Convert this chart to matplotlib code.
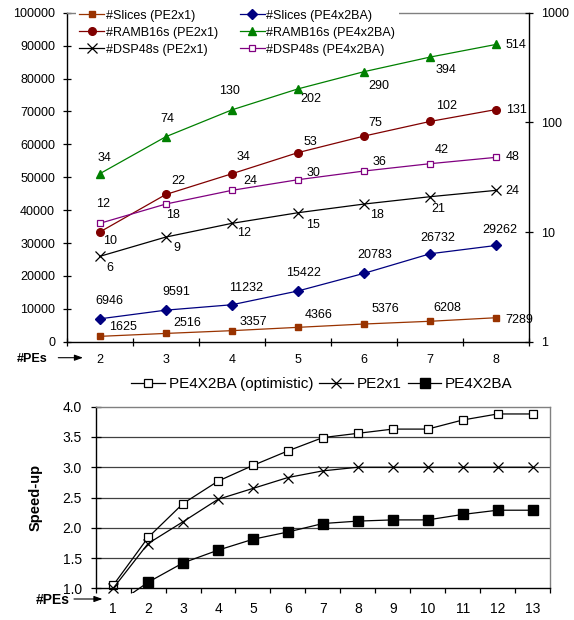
import matplotlib
matplotlib.use('Agg')
import matplotlib.pyplot as plt
from matplotlib.patches import Rectangle
from matplotlib.ticker import FixedLocator, NullLocator

plt.rcParams['font.family'] = ['Liberation Sans', 'DejaVu Sans']

# ---------------- data ----------------
pes_top = ['2', '3', '4', '5', '6', '7', '8']
slices_pe2x1 = [1625, 2516, 3357, 4366, 5376, 6208, 7289]
slices_pe4x2ba = [6946, 9591, 11232, 15422, 20783, 26732, 29262]
ramb_pe2x1 = [10, 22, 34, 53, 75, 102, 131]
ramb_pe4x2ba = [34, 74, 130, 202, 290, 394, 514]
dsp_pe2x1 = [6, 9, 12, 15, 18, 21, 24]
dsp_pe4x2ba = [12, 18, 24, 30, 36, 42, 48]

pes_bottom = ['1', '2', '3', '4', '5', '6', '7', '8', '9', '10', '11', '12', '13']
speed_opt = [1.05, 1.84, 2.40, 2.77, 3.03, 3.27, 3.49, 3.56, 3.63, 3.63, 3.78, 3.88, 3.88]
speed_pe2x1 = [1.0, 1.74, 2.10, 2.47, 2.65, 2.83, 2.94, 3.0, 3.0, 3.0, 3.0, 3.0, 3.0]
speed_pe4x2ba = [0.7, 1.10, 1.42, 1.63, 1.81, 1.93, 2.07, 2.11, 2.13, 2.13, 2.22, 2.29, 2.29]

# label offsets (pixels, dx right, dy down) -- styling only
off_s21 = [(23, -9), (21, -10), (21, -9), (21, -12), (21, -15), (17, -13), (23, 2)]
off_s42 = [(10, -18), (10, -18), (14, -17), (6, -18), (11, -18), (8, -16), (4, -15)]
off_r21 = [(10, 9), (12, -13), (12, -17), (12, -11), (11, -13), (16, -15), (20, 0)]
off_r42 = [(5, -16), (2, -18), (-2, -19), (13, 10), (15, 14), (16, 13), (20, 1)]
off_d21 = [(10, 12), (11, 11), (12, 10), (15, 12), (13, 11), (8, 12), (16, 1)]
off_d42 = [(3, -19), (7, 11), (18, -9), (16, -7), (15, -9), (12, -14), (16, 0)]

W, H = 574, 620
fig = plt.figure(figsize=(W / 100, H / 100), dpi=100)

def fx(px):
    return px / W

def fy(py):
    return 1 - py / H

FS = 9

# ---------------- top chart ----------------
l, r, t, b = 66.7, 529.3, 12.7, 341.7
ax1 = fig.add_axes([fx(l), fy(b), fx(r - l), fy(t) - fy(b)])
ax2 = ax1.twinx()
ax1.set_zorder(1)
ax2.set_zorder(2)
ax1.patch.set_visible(False)

xt = list(range(len(pes_top)))
ax1.set_xlim(-0.5, len(pes_top) - 0.5)
ax1.set_ylim(0, 100000)
ax2.set_yscale('log')
ax2.set_ylim(1, 1000)

lw = 0.9
h_s21, = ax1.plot(xt, slices_pe2x1, color='#993300', lw=lw, marker='s', ms=5,
                  mfc='#993300', mec='#993300', label='#Slices (PE2x1)')
h_s42, = ax1.plot(xt, slices_pe4x2ba, color='#000080', lw=lw, marker='D', ms=5,
                  mfc='#000080', mec='#000080', label='#Slices (PE4x2BA)')
h_r21, = ax2.plot(xt, ramb_pe2x1, color='#800000', lw=lw, marker='o', ms=5.5,
                  mfc='#800000', mec='#800000', label='#RAMB16s (PE2x1)')
h_r42, = ax2.plot(xt, ramb_pe4x2ba, color='#008000', lw=lw, marker='^', ms=6,
                  mfc='#008000', mec='#008000', label='#RAMB16s (PE4x2BA)')
h_d21, = ax2.plot(xt, dsp_pe2x1, color='black', lw=lw, marker='x', ms=6.5,
                  mew=0.9, label='#DSP48s (PE2x1)')
h_d42, = ax2.plot(xt, dsp_pe4x2ba, color='#800080', lw=lw, marker='s', ms=5,
                  mfc='white', mec='#800080', mew=0.9, label='#DSP48s (PE4x2BA)')

def labels(ax, vals, offs):
    for x, v, (dx, dy) in zip(xt, vals, offs):
        ax.annotate(str(v), (x, v), xytext=(dx, -dy), textcoords='offset pixels',
                    ha='center', va='center', fontsize=FS, color='black')

labels(ax1, slices_pe2x1, off_s21)
labels(ax1, slices_pe4x2ba, off_s42)
labels(ax2, ramb_pe2x1, off_r21)
labels(ax2, ramb_pe4x2ba, off_r42)
labels(ax2, dsp_pe2x1, off_d21)
labels(ax2, dsp_pe4x2ba, off_d42)

for ax in (ax1, ax2):
    for s in ax.spines.values():
        s.set_visible(False)
ax1.spines['left'].set_visible(True)
ax1.spines['bottom'].set_visible(True)
ax1.spines['top'].set_visible(True)
ax1.spines['top'].set_color('#808080')
ax2.spines['right'].set_visible(True)
for s in (ax1.spines['left'], ax1.spines['bottom'], ax2.spines['right']):
    s.set_color('black')
    s.set_linewidth(1.0)
ax1.spines['top'].set_linewidth(1.0)

ax1.set_yticks(range(0, 100001, 10000))
ax1.set_yticklabels([str(v) for v in range(0, 100001, 10000)])
ax1.tick_params(axis='y', direction='inout', length=6, width=0.9, pad=5.4, labelsize=FS)
ax2.set_yticks([1, 10, 100, 1000])
ax2.set_yticklabels(['1', '10', '100', '1000'])
ax2.yaxis.set_minor_locator(NullLocator())
ax2.tick_params(axis='y', which='both', direction='inout', length=6, width=0.9, pad=5.4, labelsize=FS)

ax1.xaxis.set_major_locator(FixedLocator([i - 0.5 for i in range(len(pes_top) + 1)]))
ax1.xaxis.set_minor_locator(FixedLocator(xt))
ax1.set_xticklabels([''] * (len(pes_top) + 1))
ax1.set_xticklabels(pes_top, minor=True)
ax1.tick_params(axis='x', which='major', direction='inout', length=6, width=0.9)
ax1.tick_params(axis='x', which='minor', length=0, pad=9, labelsize=FS)

leg = ax2.legend(handles=[h_s21, h_r21, h_d21, h_s42, h_r42, h_d42], ncol=2,
                 loc='upper left', bbox_to_anchor=(fx(75.5), fy(5.8)),
                 bbox_transform=fig.transFigure, fontsize=FS, frameon=True,
                 fancybox=False, framealpha=1, facecolor='white', edgecolor='none',
                 borderpad=0.3, borderaxespad=0, handlelength=2.0, handletextpad=0.15,
                 columnspacing=1.7, labelspacing=0.40)

fig.text(fx(32.5), fy(359.3), '#PEs', fontsize=FS, fontweight='bold',
         ha='center', va='center')
fig.add_artist(matplotlib.patches.FancyArrowPatch(
    (fx(58.3), fy(357.7)), (fx(83), fy(357.7)), transform=fig.transFigure,
    arrowstyle='-|>,head_length=0.5,head_width=0.18', mutation_scale=10,
    lw=0.8, color='black', shrinkA=0, shrinkB=0))

# ---------------- bottom chart ----------------
FS2 = 10
l, r, t, b = 95.7, 550.0, 406.7, 588.3
ax3 = fig.add_axes([fx(l), fy(b), fx(r - l), fy(t) - fy(b)])
xb = list(range(1, len(pes_bottom) + 1))
ax3.set_xlim(0.5, len(pes_bottom) + 0.5)
ax3.set_ylim(1.0, 4.0)

clip = Rectangle((0, -0.025), 1, 1.1, transform=ax3.transAxes)
h1, = ax3.plot(xb, speed_opt, color='black', lw=lw, marker='s', ms=6,
               mfc='white', mec='black', mew=0.9, label='PE4X2BA (optimistic)')
h2, = ax3.plot(xb, speed_pe2x1, color='black', lw=lw, marker='x', ms=7,
               mew=0.9, label='PE2x1')
h3, = ax3.plot(xb, speed_pe4x2ba, color='black', lw=lw, marker='s', ms=6.5,
               mfc='black', mec='black', label='PE4X2BA')
for h in (h1, h2, h3):
    h.set_clip_on(True)
    h.set_clip_path(clip)

for yv in [1.5, 2.0, 2.5, 3.0, 3.5]:
    ax3.axhline(yv, color='#404040', lw=0.9, zorder=0.5)

for side in ('top', 'right'):
    ax3.spines[side].set_color('#808080')
    ax3.spines[side].set_linewidth(1.0)
for side in ('left', 'bottom'):
    ax3.spines[side].set_color('black')
    ax3.spines[side].set_linewidth(1.0)

yt = [1.0, 1.5, 2.0, 2.5, 3.0, 3.5, 4.0]
ax3.set_yticks(yt)
ax3.set_yticklabels(['%.1f' % v for v in yt])
ax3.tick_params(axis='y', direction='inout', length=6.5, width=0.9, pad=6.8, labelsize=FS2)

ax3.xaxis.set_major_locator(FixedLocator([i + 0.5 for i in range(len(pes_bottom) + 1)]))
ax3.xaxis.set_minor_locator(FixedLocator(xb))
ax3.set_xticklabels([''] * (len(pes_bottom) + 1))
ax3.set_xticklabels(pes_bottom, minor=True)
ax3.tick_params(axis='x', which='major', direction='out', length=3.5, width=0.9)
ax3.tick_params(axis='x', which='minor', length=0, pad=10, labelsize=FS2)

ax3.set_ylabel('Speed-up', fontsize=10.5, fontweight='bold')
ax3.yaxis.set_label_coords((43 - l) / (r - l), 0.5)

ax3.legend(handles=[h1, h2, h3], ncol=3, loc='center',
           bbox_to_anchor=(fx(322), fy(384)), bbox_transform=fig.transFigure,
           fontsize=11, frameon=False, handlelength=2.2, handletextpad=0.25,
           columnspacing=0.4, borderpad=0)

fig.text(fx(52.5), fy(600), '#PEs', fontsize=FS2, fontweight='bold',
         ha='center', va='center')
fig.add_artist(matplotlib.patches.FancyArrowPatch(
    (fx(74), fy(599)), (fx(102.5), fy(599)), transform=fig.transFigure,
    arrowstyle='-|>,head_length=0.5,head_width=0.18', mutation_scale=10,
    lw=0.8, color='black', shrinkA=0, shrinkB=0))

fig.savefig('out.png', dpi=100)
